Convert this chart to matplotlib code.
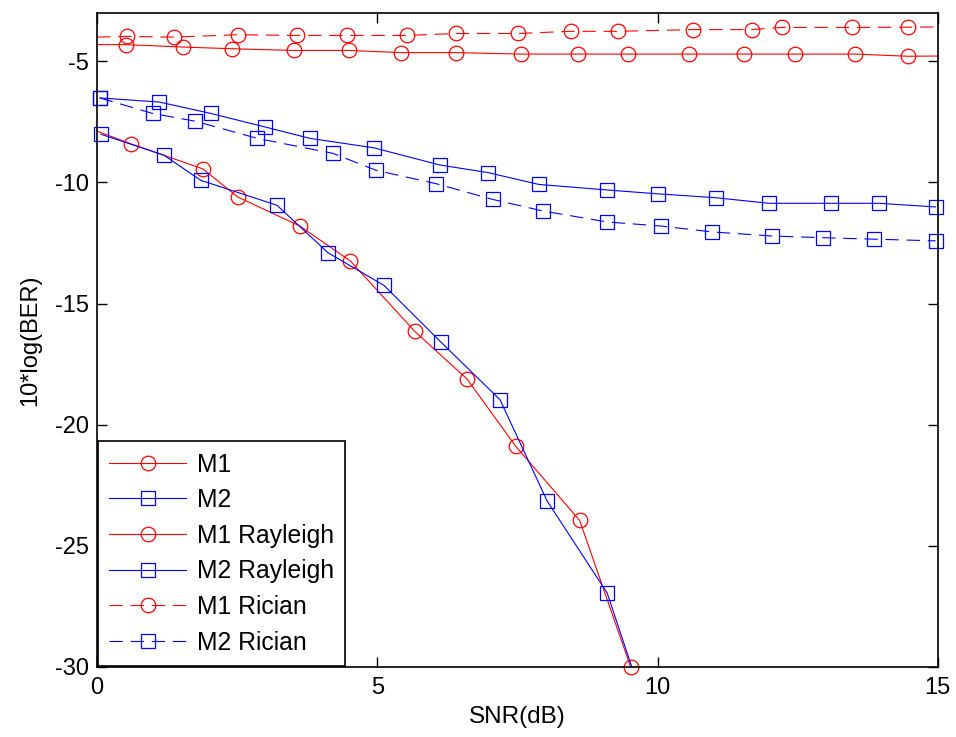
import matplotlib
matplotlib.use('Agg')
import matplotlib.pyplot as plt

plt.rcParams['font.family'] = ['Liberation Sans', 'DejaVu Sans']
plt.rcParams['axes.unicode_minus'] = False

# SNR(dB) / 10*log(BER) values
m1_x = [0, 0.61, 1.89, 2.51, 3.62, 4.52, 5.67, 6.60, 7.47, 8.61, 9.52]
m1_y = [-7.88, -8.41, -9.44, -10.60, -11.80, -13.24, -16.15, -18.11, -20.89, -23.95, -30.0]

m2_x = [0.07, 1.19, 1.85, 3.21, 4.12, 5.12, 6.14, 7.19, 8.03, 9.10, 9.54]
m2_y = [-8.01, -8.87, -9.91, -10.94, -12.90, -14.25, -16.60, -18.97, -23.15, -26.94, -30.0]

m1_ray_x = [0, 0.51, 1.54, 2.41, 3.52, 4.49, 5.43, 6.40, 7.57, 8.58, 9.48,
            10.56, 11.54, 12.46, 13.53, 14.47, 15]
m1_ray_y = [-4.31, -4.31, -4.41, -4.48, -4.55, -4.55, -4.64, -4.64, -4.70, -4.70, -4.70,
            -4.70, -4.70, -4.70, -4.70, -4.79, -4.78]

m2_ray_x = [0.05, 1.11, 2.03, 3.00, 3.80, 4.94, 6.12, 6.97, 7.88, 9.10, 10.01,
            11.04, 11.99, 13.09, 13.95, 14.96]
m2_ray_y = [-6.51, -6.68, -7.15, -7.71, -8.18, -8.57, -9.28, -9.59, -10.08, -10.31, -10.47,
            -10.63, -10.86, -10.86, -10.86, -11.01]

m1_ric_x = [0, 0.53, 1.37, 2.51, 3.57, 4.46, 5.53, 6.40, 7.51, 8.45, 9.29,
            10.63, 11.68, 12.22, 13.47, 14.46, 15]
m1_ric_y = [-4.00, -3.97, -4.00, -3.90, -3.93, -3.93, -3.93, -3.85, -3.85, -3.76, -3.76,
            -3.69, -3.69, -3.60, -3.60, -3.59, -3.58]

m2_ric_x = [0.05, 0.99, 1.75, 2.86, 4.21, 4.98, 6.05, 7.06, 7.96, 9.10, 10.07,
            10.97, 12.04, 12.95, 13.86, 14.96]
m2_ric_y = [-6.51, -7.15, -7.47, -8.18, -8.80, -9.50, -10.05, -10.70, -11.18, -11.63, -11.80,
            -12.04, -12.21, -12.28, -12.34, -12.41]

fig = plt.figure(figsize=(9.56, 7.37), dpi=100)
ax = fig.add_axes([0.1015, 0.095, 0.8795, 0.8875])

dash = (0, (12, 7))
common = dict(lw=0.8, mfc='none', mew=0.9, ms=10.5, clip_on=False)

ax.plot(m1_ric_x, m1_ric_y, color='red', ls=dash, marker='o', markevery=slice(1, -1),
        label='M1 Rician', **common)
ax.plot(m1_ray_x, m1_ray_y, color='red', ls='-', marker='o', markevery=slice(1, -1),
        label='M1 Rayleigh', **common)
ax.plot(m2_ray_x, m2_ray_y, color='blue', ls='-', marker='s', label='M2 Rayleigh', **common)
ax.plot(m2_ric_x, m2_ric_y, color='blue', ls=dash, marker='s', label='M2 Rician', **common)
ax.plot(m1_x, m1_y, color='red', ls='-', marker='o', markevery=slice(1, None),
        label='M1', **common)
ax.plot(m2_x, m2_y, color='blue', ls='-', marker='s', markevery=slice(0, -1),
        label='M2', **common)

ax.set_xlim(0, 15)
ax.set_ylim(-30, -3)
ax.set_xticks([0, 5, 10, 15])
ax.set_yticks([-30, -25, -20, -15, -10, -5])
ax.tick_params(direction='in', length=7, width=1, top=True, right=True, labelsize=17)
ax.tick_params(axis='x', pad=7)
ax.tick_params(axis='y', pad=6)
for s in ax.spines.values():
    s.set_linewidth(1.2)
ax.set_xlabel('SNR(dB)', fontsize=17.5, labelpad=5)
ax.set_ylabel('10*log(BER)', fontsize=17, labelpad=10)

handles, labels = ax.get_legend_handles_labels()
order = ['M1', 'M2', 'M1 Rayleigh', 'M2 Rayleigh', 'M1 Rician', 'M2 Rician']
hmap = dict(zip(labels, handles))
leg = ax.legend([hmap[k] for k in order], order, loc='lower left', fontsize=17.8,
                numpoints=1, handlelength=3.1, handletextpad=0.45, borderpad=0.45,
                labelspacing=0.47, borderaxespad=0.05, fancybox=False, framealpha=1,
                edgecolor='black')
leg.get_frame().set_linewidth(1.2)

fig.savefig('out.png', dpi=100)
